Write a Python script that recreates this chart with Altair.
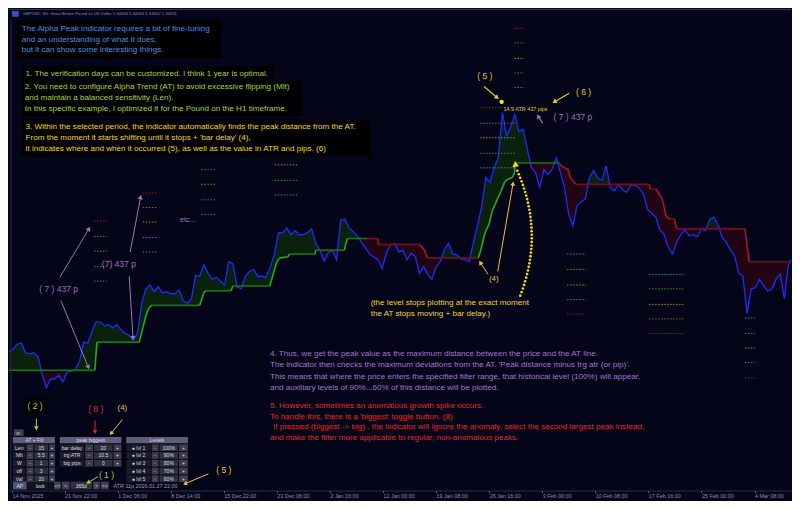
import math
import numpy as np
import pandas as pd
import altair as alt

# ---------------- data ----------------
TICK_BARS = [8, 134, 262, 390, 518, 646, 774, 902, 1030, 1158, 1286, 1414, 1542, 1670, 1798]
TICK_LABELS = ["14 Nov 2025", "21 Nov 22:00", "1 Dec 06:00", "8 Dec 14:00", "15 Dec 22:00",
               "23 Dec 06:00", "2 Jan 16:00", "12 Jan 00:00", "19 Jan 08:00", "26 Jan 16:00",
               "3 Feb 00:00", "10 Feb 08:00", "17 Feb 16:00", "25 Feb 00:00", "4 Mar 08:00"]

PRICE_STEP = 10  # H1 bars between samples
PRICE = [
    1.3378, 1.3381, 1.3386, 1.3387, 1.3377, 1.3376, 1.3377, 1.3373, 1.3355, 1.3341,
    1.3350, 1.3350, 1.3354, 1.3347, 1.3357, 1.3358, 1.3360, 1.3368, 1.3388, 1.3387,
    1.3399, 1.3409, 1.3409, 1.3405, 1.3406, 1.3403, 1.3406, 1.3401, 1.3397, 1.3395,
    1.3390, 1.3397, 1.3428, 1.3443, 1.3447, 1.3440, 1.3445, 1.3439, 1.3440, 1.3438,
    1.3438, 1.3442, 1.3431, 1.3428, 1.3433, 1.3457, 1.3456, 1.3468, 1.3459, 1.3453,
    1.3455, 1.3451, 1.3447, 1.3471, 1.3469, 1.3445, 1.3443, 1.3456, 1.3461, 1.3463,
    1.3456, 1.3456, 1.3455, 1.3465, 1.3479, 1.3501, 1.3501, 1.3506, 1.3499, 1.3503,
    1.3499, 1.3499, 1.3501, 1.3505, 1.3490, 1.3483, 1.3472, 1.3480, 1.3483, 1.3473,
    1.3514, 1.3515, 1.3506, 1.3502, 1.3498, 1.3491, 1.3485, 1.3479, 1.3476, 1.3473,
    1.3464, 1.3480, 1.3488, 1.3490, 1.3481, 1.3483, 1.3473, 1.3480, 1.3476, 1.3459,
    1.3466, 1.3458, 1.3453, 1.3466, 1.3471, 1.3483, 1.3490, 1.3479, 1.3478, 1.3474,
    1.3473, 1.3471, 1.3491, 1.3508, 1.3528, 1.3558, 1.3553, 1.3568, 1.3578, 1.3625,
    1.3601, 1.3610, 1.3623, 1.3605, 1.3608, 1.3587, 1.3568, 1.3563, 1.3548, 1.3566,
    1.3561, 1.3567, 1.3578, 1.3563, 1.3547, 1.3520, 1.3508, 1.3529, 1.3533, 1.3536,
    1.3558, 1.3565, 1.3557, 1.3555, 1.3570, 1.3548, 1.3544, 1.3551, 1.3545, 1.3543,
    1.3550, 1.3550, 1.3547, 1.3541, 1.3525, 1.3521, 1.3517, 1.3504, 1.3499, 1.3486,
    1.3479, 1.3491, 1.3499, 1.3504, 1.3498, 1.3499, 1.3497, 1.3505, 1.3503, 1.3515,
    1.3517, 1.3509, 1.3496, 1.3491, 1.3483, 1.3477, 1.3459, 1.3456, 1.3418, 1.3443,
    1.3444, 1.3453, 1.3446, 1.3441, 1.3443, 1.3453, 1.3458, 1.3433, 1.3468, 1.3476,
]

AT_BAR = [0, 207, 212, 314, 323, 330, 337, 344, 460, 469,
          474, 535, 540, 629, 637, 646, 653, 672, 677, 738,
          740, 809, 811, 816, 865, 889, 891, 990, 1002, 1009,
          1132, 1139, 1148, 1158, 1165, 1172, 1179, 1186, 1195, 1202,
          1214, 1219, 1221, 1327, 1332, 1349, 1353, 1367, 1544, 1547,
          1561, 1565, 1575, 1580, 1584, 1596, 1605, 1610, 1775, 1785, 1886]
AT_PRICE = [1.3359, 1.3359, 1.3388, 1.3388, 1.3403, 1.3415, 1.3423, 1.3426, 1.3426, 1.3438,
            1.3441, 1.3441, 1.3446, 1.3446, 1.3458, 1.3471, 1.3475, 1.3476, 1.3479, 1.3479,
            1.3483, 1.3483, 1.3488, 1.3495, 1.3495, 1.3495, 1.3489, 1.3489, 1.3483, 1.3475,
            1.3475, 1.3485, 1.3501, 1.3510, 1.3523, 1.3530, 1.3537, 1.3543, 1.3553, 1.3556,
            1.3558, 1.3563, 1.3573, 1.3573, 1.3570, 1.3566, 1.3558, 1.3551, 1.3551, 1.3546,
            1.3546, 1.3543, 1.3536, 1.3528, 1.3518, 1.3515, 1.3515, 1.3505, 1.3505, 1.3471, 1.3471]
AT_TREND = "u" * 24 + "d" * 6 + "u" * 13 + "d" * 17   # trend of each AT segment

LVL_START = [205, 323, 464, 641, 1136, 1219, 1346, 1544, 1775]
LVL_END = [236, 358, 497, 695, 1221, 1242, 1391, 1627, 1799]
LVL_100 = [1.3513, 1.3542, 1.3581, 1.3601, 1.3630, 1.3712, 1.3417, 1.3397, 1.3351]
LVL_90 = [1.3497, 1.3527, 1.3566, 1.3586, 1.3614, 1.3697, 1.3432, 1.3412, 1.3367]
LVL_80 = [1.3482, 1.3512, 1.3551, 1.3571, 1.3599, 1.3681, 1.3447, 1.3427, 1.3382]
LVL_70 = [1.3466, 1.3496, 1.3535, 1.3555, 1.3583, 1.3666, 1.3463, 1.3443, 1.3397]
LVL_60 = [1.3451, 1.3481, 1.3520, 1.3540, 1.3568, 1.3651, 1.3479, 1.3458, 1.3413]
LVL_COLORS = ["#8e1c30", "#8c5c2a", "#8e8c2c", "#2a8e2a", "#2a8c8c"]

# ---------------- layout helpers (reference pixel layout -> data units) ----------------
W, H = 784, 493
BPP = 1886 / 800.0
TOP = 1.3733


def X(px):
    return px * BPP


def Y(py):
    return TOP - py / 10000.0


BG = "#05051a"
FONT = "Liberation Sans"
FS = 8.1

XS = alt.Scale(domain=[0, 1886], nice=False, zero=False)
YS = alt.Scale(domain=[Y(509), Y(0)], nice=False, zero=False)

label_expr = " : ".join(f"datum.value == {b} ? '{t}'" for b, t in zip(TICK_BARS, TICK_LABELS)) + " : ''"
X_AX = alt.Axis(values=TICK_BARS, labelExpr=label_expr, title=None, orient="bottom", offset=-10.5,
                domainColor="#2c2c46", tickColor="#6a6a80", tickSize=2, labelColor="#8c8ca6",
                labelFontSize=5.4, labelFont=FONT, labelAlign="left", labelPadding=1, grid=False,
                labelOverlap=False, labelFlush=False)


def ex(f="bar"):
    return alt.X(f"{f}:Q", scale=XS, axis=X_AX)


def ey(f="price"):
    return alt.Y(f"{f}:Q", scale=YS, axis=None)


# ---------------- series tables ----------------
bars = np.arange(len(PRICE)) * PRICE_STEP
price = np.array(PRICE)
at_at_bars = np.interp(bars, AT_BAR, AT_PRICE)
series = pd.DataFrame({
    "bar": bars,
    "price": price,
    "at": at_at_bars,
    "up_top": np.maximum(price, at_at_bars),
    "dn_bot": np.minimum(price, at_at_bars),
})

seg_rows = []
for i in range(len(AT_BAR) - 1):
    tr = AT_TREND[i]
    flat = abs(AT_PRICE[i + 1] - AT_PRICE[i]) < 1e-9
    if tr == "u":
        col = "#1c721c" if flat else "#26aa26"
    else:
        col = "#740c22" if flat else "#aa142e"
    seg_rows.append({"bar": AT_BAR[i], "bar2": AT_BAR[i + 1], "price": AT_PRICE[i],
                     "price2": AT_PRICE[i + 1], "col": col})
segs = pd.DataFrame(seg_rows)

lvl_rows = []
for k, arr in enumerate([LVL_100, LVL_90, LVL_80, LVL_70, LVL_60]):
    for s, e, p in zip(LVL_START, LVL_END, arr):
        lvl_rows.append({"bar": s, "bar2": e, "price": p, "col": LVL_COLORS[k]})
lvls = pd.DataFrame(lvl_rows)

# ---------------- annotation tables ----------------
BLUE = "#4b8fe2"
LIME = "#a8d23a"
YEL = "#f2d61e"
GOLD = "#e8c040"
PURP = "#9a72b8"
PURP2 = "#a674cc"
RED = "#e02a2a"
GREY = "#9a9aae"

texts = [
    (14, 6, "GBPUSD, H1:  Great Britain Pound vs US Dollar  1.34603 1.34663 1.34602 1.34631", "#8a8aa2", 4.2),
    (13, 22, "The Alpha Peak indicator requires a bit of fine-tuning", BLUE, FS),
    (13, 33, "and an understanding of what it does,", BLUE, FS),
    (13, 43.5, "but it can show some interesting things.", BLUE, FS),
    (17, 68, "1. The verification days can be customized. I think 1 year is optimal.", LIME, FS),
    (16, 82, "2. You need to configure Alpha Trend (AT) to avoid excessive flipping (Mlt)", LIME, FS),
    (16, 93, "and maintain a balanced sensitivity (Len).", LIME, FS),
    (16, 104, "In this specific example, I optimized it for the Pound on the H1 timeframe.", LIME, FS),
    (17, 123, "3. Within the selected period, the indicator automatically finds the peak distance from the AT.", YEL, FS),
    (17, 134, "From the moment it starts shifting until it stops + 'bar delay' (4),", YEL, FS),
    (17, 146, "it indicates where and when it occurred (5), as well as the value in ATR and pips. (6)", YEL, FS),
    (479, 70, "( 5 )", GOLD, 8.5),
    (580, 87, "( 6 )", GOLD, 8.5),
    (506, 104, "14.9 ATR  437 pips", "#d8d428", 5.4),
    (557, 113, "( 7 )  437 p", PURP, 8.5),
    (31, 290, "( 7 )  437 p", PURP, 8.5),
    (95, 264, "(7)  437 p", PURP, 8.5),
    (175, 219, "etc...", PURP, 7.2),
    (370, 305, "(the level stops plotting at the exact moment", YEL, FS),
    (370, 316, "the AT stops moving + bar delay.)", YEL, FS),
    (491, 280, "(4)", GOLD, 8),
    (267, 357, "4. Thus, we get the peak value as the maximum distance between the price and the AT line.", PURP2, FS),
    (267, 369, "The indicator then checks the maximum deviations from the AT. 'Peak distance minus trg atr (or pip)'.", PURP2, FS),
    (267, 381, "This means that where the price enters the specified filter range, that historical level (100%) will appear,", PURP2, FS),
    (267, 392, "and auxiliary levels of 90%...60% of this distance will be plotted.", PURP2, FS),
    (267, 411, "5. However, sometimes an anomalous growth spike occurs.", RED, FS),
    (267, 422, "To handle this, there is a 'biggest' toggle button. (8)", RED, FS),
    (270, 433, "If pressed (biggest -> big) , the indicator will ignore the anomaly, select the second largest peak instead,", RED, FS),
    (267, 444, "and make the filter more applicable to regular, non-anomalous peaks.", RED, FS),
    (19, 411, "( 2 )", LIME, 8.5),
    (81, 414, "( 8 )", RED, 8.5),
    (111, 413, "(4)", GOLD, 8),
    (92, 482, "( 1 )", LIME, 8.5),
    (212, 477, "( 5 )", GOLD, 8.5),
    (107, 493, "ATR 11p  2026.01.27 22:00", GREY, 5.4),
]
tdf = pd.DataFrame([{"bar": X(a), "price": Y(b), "txt": t, "col": c, "fs": s} for a, b, t, c, s in texts])

# black text boxes and panel cells (x1, y1, x2, y2, fill)
rects = [
    (8, 13, 217, 52, "#000000"), (13, 60, 271, 75, "#000000"), (13, 75, 300, 112, "#000000"),
    (13, 115, 370, 153, "#000000"), (15, 403, 40, 420, "#000000"),
    (5, 435, 15, 442, "#3e3e4e"),
    (4, 443, 47, 449.5, "#5e5e78"), (52, 443, 115, 449.5, "#5e5e78"), (120, 443, 183, 449.5, "#5e5e78"),
]
ROW_Y = [454, 462, 470, 478, 486]
for i, yc in enumerate(ROW_Y):
    y1, y2 = yc - 3.5, yc + 3.5
    rects += [(4, y1, 17, y2, "#1c1c2a"), (18, y1, 25, y2, "#3e3e4e"), (26, y1, 40, y2, "#30303e"), (41, y1, 47, y2, "#3e3e4e")]
    if i < 3:
        rects += [(52, y1, 77, y2, "#1c1c2a"), (78, y1, 86, y2, "#3e3e4e"), (87, y1, 106, y2, "#30303e"), (107, y1, 115, y2, "#3e3e4e")]
    rects += [(120, y1, 145, y2, "#1c1c2a"), (146, y1, 153, y2, "#3e3e4e"), (154, y1, 173, y2, "#30303e"), (174, y1, 183, y2, "#3e3e4e")]
rects += [(4, 489, 18, 497, "#4c5478"), (19, 489, 45, 497, "#12121e"), (46, 489, 53, 497, "#3e3e4e"),
          (54, 489, 62, 497, "#3e3e4e"), (63, 489, 85, 497, "#30303e"), (86, 489, 93, 497, "#3e3e4e"),
          (94, 489, 102, 497, "#3e3e4e"), (3, 3, 10, 9, "#3a4cc0")]
rdf = pd.DataFrame([{"bar": X(a), "bar2": X(c), "price": Y(b), "price2": Y(d), "col": f} for a, b, c, d, f in rects])

ctexts = [("AT + Fill", 26, 446), ("peak biggest", 83.5, 446), ("Levels", 151.5, 446), ("o-", 10, 438.5)]
for i, (lab, val) in enumerate(zip(["Len", "Mlt", "W", "off", "Val"], ["15", "5.5", "1", "3", "20"])):
    ctexts += [(lab, 10.5, ROW_Y[i]), ("-", 21.5, ROW_Y[i]), (val, 33, ROW_Y[i]), ("+", 44, ROW_Y[i])]
for i, (lab, val) in enumerate(zip(["bar delay", "trg ATR", "big pips"], ["20", "10.5", "0"])):
    ctexts += [(lab, 64.5, ROW_Y[i]), ("-", 82, ROW_Y[i]), (val, 96.5, ROW_Y[i]), ("+", 111, ROW_Y[i])]
for i, val in enumerate(["100%", "90%", "80%", "70%", "60%"]):
    ctexts += [(f"\u25cf lvl {i + 1}", 132.5, ROW_Y[i]), ("-", 149.5, ROW_Y[i]), (val, 163.5, ROW_Y[i]), ("+", 178.5, ROW_Y[i])]
ctexts += [("AP", 11, 493), ("look", 32, 493), ("<<", 49.5, 493), ("<", 58, 493), ("365d", 74, 493),
           (">", 89.5, 493), (">>", 98, 493)]
cdf = pd.DataFrame([{"bar": X(a), "price": Y(b), "txt": t} for t, a, b in ctexts])

# arrows (x0, y0, x1, y1, colour, width, head size)
arrows = [
    (52, 278, 83, 226, PURP, 1.0, 26), (53, 302, 82, 373, PURP, 1.0, 26),
    (124, 252, 135, 193, PURP, 1.0, 26), (123, 277, 127, 343, PURP, 1.0, 26),
    (546, 119, 540, 110, PURP, 1.2, 26),
    (486, 81, 501, 94, GOLD, 1.2, 26), (573, 88, 556, 98, GOLD, 1.2, 26),
    (490, 275, 481, 261, GOLD, 1.0, 24), (500, 272, 516, 179, GOLD, 1.0, 24),
    (116, 425, 103, 441, GOLD, 1.0, 22), (204, 481, 178, 492, GOLD, 1.0, 22),
    (28, 424, 28, 436, LIME, 1.0, 22), (91, 484, 79, 491, LIME, 1.0, 22),
    (88, 426, 88, 440, RED, 1.0, 22),
]
arow, heads = [], []
for x0, y0, x1, y1, c, w, s in arrows:
    dx, dy = x1 - x0, y1 - y0
    L = math.hypot(dx, dy)
    ux, uy = dx / L, dy / L
    ang = math.degrees(math.atan2(dx, -dy)) % 360
    arow.append({"bar": X(x0), "price": Y(y0), "bar2": X(x1 - 2 * ux), "price2": Y(y1 - 2 * uy), "col": c, "sw": w})
    heads.append({"bar": X(x1 - 2.2 * ux), "price": Y(y1 - 2.2 * uy), "ang": ang, "col": c, "sz": s})
heads.append({"bar": X(518), "price": Y(161), "ang": 352.0, "col": YEL, "sz": 45})
adf = pd.DataFrame(arow)
hdf = pd.DataFrame(heads)

# dotted curved arrow (bezier drawn as dots)
P0, C, P2 = (523, 297), (548, 232), (520, 168)
dots = []
for t in np.linspace(0, 1, 36):
    bx = (1 - t) ** 2 * P0[0] + 2 * (1 - t) * t * C[0] + t ** 2 * P2[0]
    by = (1 - t) ** 2 * P0[1] + 2 * (1 - t) * t * C[1] + t ** 2 * P2[1]
    dots.append({"bar": X(bx), "price": Y(by), "col": YEL, "sz": 7})
dots.append({"bar": X(504), "price": Y(97), "col": "#f5f000", "sz": 18})
ddf = pd.DataFrame(dots)

frame = pd.DataFrame([
    {"bar": X(0), "bar2": X(800), "price": Y(1.5), "price2": Y(1.5), "col": "#3a3a56"},
    {"bar": X(2), "bar2": X(2), "price": Y(12), "price2": Y(498), "col": "#2a2a42"},
])

# ---------------- layers ----------------
fill_up = alt.Chart(series).mark_area(color="#0a220d", clip=True, interpolate="linear").encode(
    x=ex(), y=ey("up_top"), y2=alt.Y2("at:Q"))
fill_dn = alt.Chart(series).mark_area(color="#210512", clip=True, interpolate="linear").encode(
    x=ex(), y=ey("dn_bot"), y2=alt.Y2("at:Q"))
price_line = alt.Chart(series).mark_line(color="#1a2cf2", strokeWidth=1.35, clip=True).encode(
    x=ex(), y=ey())
at_line = alt.Chart(segs).mark_rule(strokeWidth=1.6, clip=True).encode(
    x=ex(), x2=alt.X2("bar2:Q"), y=ey(), y2=alt.Y2("price2:Q"), color=alt.Color("col:N", scale=None))
lvl_layer = alt.Chart(lvls).mark_rule(strokeWidth=1, strokeDash=[1.5, 1.5]).encode(
    x=ex(), x2=alt.X2("bar2:Q"), y=ey(), color=alt.Color("col:N", scale=None))
frame_layer = alt.Chart(frame).mark_rule(strokeWidth=1).encode(
    x=ex(), x2=alt.X2("bar2:Q"), y=ey(), y2=alt.Y2("price2:Q"), color=alt.Color("col:N", scale=None))
rect_layer = alt.Chart(rdf).mark_rect().encode(
    x=ex(), x2=alt.X2("bar2:Q"), y=ey(), y2=alt.Y2("price2:Q"), color=alt.Color("col:N", scale=None))
text_layer = alt.Chart(tdf).mark_text(align="left", baseline="middle", font=FONT).encode(
    x=ex(), y=ey(), text="txt:N", color=alt.Color("col:N", scale=None), size=alt.Size("fs:Q", scale=None))
ctext_layer = alt.Chart(cdf).mark_text(align="center", baseline="middle", font=FONT, fontSize=5,
                                       color="#dadae6").encode(x=ex(), y=ey(), text="txt:N")
arrow_layer = alt.Chart(adf).mark_rule().encode(
    x=ex(), x2=alt.X2("bar2:Q"), y=ey(), y2=alt.Y2("price2:Q"),
    color=alt.Color("col:N", scale=None), strokeWidth=alt.StrokeWidth("sw:Q", scale=None))
head_layer = alt.Chart(hdf).mark_point(shape="triangle-up", filled=True, opacity=1).encode(
    x=ex(), y=ey(), angle=alt.Angle("ang:Q", scale=None), color=alt.Color("col:N", scale=None),
    size=alt.Size("sz:Q", scale=None))
dot_layer = alt.Chart(ddf).mark_circle(opacity=1).encode(
    x=ex(), y=ey(), color=alt.Color("col:N", scale=None), size=alt.Size("sz:Q", scale=None))

chart = alt.layer(
    fill_up, fill_dn, price_line, at_line, lvl_layer, frame_layer, rect_layer,
    text_layer, ctext_layer, arrow_layer, head_layer, dot_layer,
).properties(
    width=W, height=H, background=BG, padding=0,
    autosize=alt.AutoSizeParams(type="fit", contains="padding"),
).configure_view(stroke=None, fill=BG)

chart.save("out.html", embed_options={"renderer": "svg", "actions": False})
